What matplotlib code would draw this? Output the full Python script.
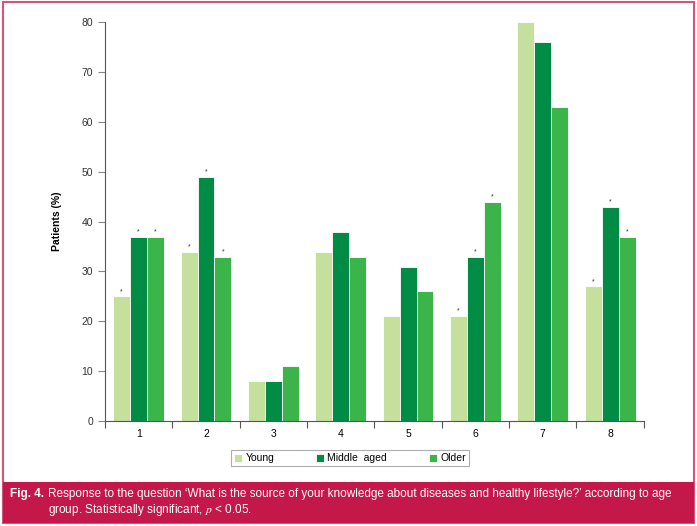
import matplotlib
matplotlib.use('Agg')
import matplotlib.pyplot as plt
from matplotlib.patches import Rectangle
import numpy as np

plt.rcParams['font.family'] = ['Liberation Sans', 'DejaVu Sans']
plt.rcParams['mathtext.fontset'] = 'stix'

# data
categories = ['1', '2', '3', '4', '5', '6', '7', '8']
young = [25, 34, 8, 34, 21, 21, 80, 27]
middle = [37, 49, 8, 38, 31, 33, 76, 43]
older = [37, 33, 11, 33, 26, 44, 63, 37]
# which groups carry a significance star
starred = [True, True, False, False, False, True, False, True]

series = [
    ('Young', young, '#c5df9c'),
    ('Middle  aged', middle, '#008c45'),
    ('Older', older, '#3bb54a'),
]

fig = plt.figure(figsize=(6.97, 5.26), dpi=100)

# outer pink border and caption band
fig.patches.append(Rectangle((0.004, 0.006), 0.992, 0.99, transform=fig.transFigure,
                             fill=False, edgecolor='#d4557a', linewidth=1.5))
fig.patches.append(Rectangle((0.004, 0.006), 0.992, 0.077, transform=fig.transFigure,
                             facecolor='#c4174a', edgecolor='none'))

ax = fig.add_axes([0.1506, 0.1996, 0.773, 0.758])

x = np.arange(1, len(categories) + 1)
w = 0.252
for i, (name, vals, col) in enumerate(series):
    pos = x + (i - 1) * w
    ax.bar(pos, vals, width=w, color=col, edgecolor='white', linewidth=0.6, label=name)
    for p, v, s in zip(pos, vals, starred):
        if s:
            ax.text(p, v + 1.0, '*', ha='center', va='center', fontsize=5, color='#333333')

ax.set_xlim(0.5, 8.5)
ax.set_ylim(0, 80)
ax.set_yticks(range(0, 81, 10))
ax.set_xticks(x)
ax.set_xticklabels(categories)
ax.set_xticks(np.arange(0.5, 9.0, 1.0), minor=True)
ax.tick_params(axis='x', which='major', length=0, labelsize=7.5, pad=6)
ax.tick_params(axis='x', which='minor', length=5, color='#555555', width=0.8)
ax.tick_params(axis='y', length=5, color='#888888', width=0.8, labelsize=7.5, labelcolor='#333333')
for side in ('top', 'right'):
    ax.spines[side].set_visible(False)
for side in ('left', 'bottom'):
    ax.spines[side].set_color('#555555')
    ax.spines[side].set_linewidth(0.8)
ax.set_ylabel('Patients (%)', fontsize=7.5, fontweight='bold', labelpad=14)

leg = fig.legend(loc='center', bbox_to_anchor=(0.502, 0.129), ncol=3, fontsize=7.5,
                 frameon=True, fancybox=False, edgecolor='#999999',
                 handlelength=0.8, handleheight=0.8, handletextpad=0.3,
                 columnspacing=4.0, borderpad=0.3, borderaxespad=0)
leg.get_frame().set_linewidth(0.8)

fig.text(0.014, 1 - 494 / 526, 'Fig. 4.', color='white', fontsize=8.5,
         fontweight='bold', va='center')
fig.text(0.069, 1 - 494 / 526,
         "Response to the question \u2018What is the source of your knowledge about diseases "
         "and healthy lifestyle?\u2019 according to age",
         color='white', fontsize=8.5, va='center')
fig.text(0.069, 1 - 510 / 526, r"group. Statistically significant, $p$ < 0.05.",
         color='white', fontsize=8.5, va='center')

fig.savefig('out.png', dpi=100)
